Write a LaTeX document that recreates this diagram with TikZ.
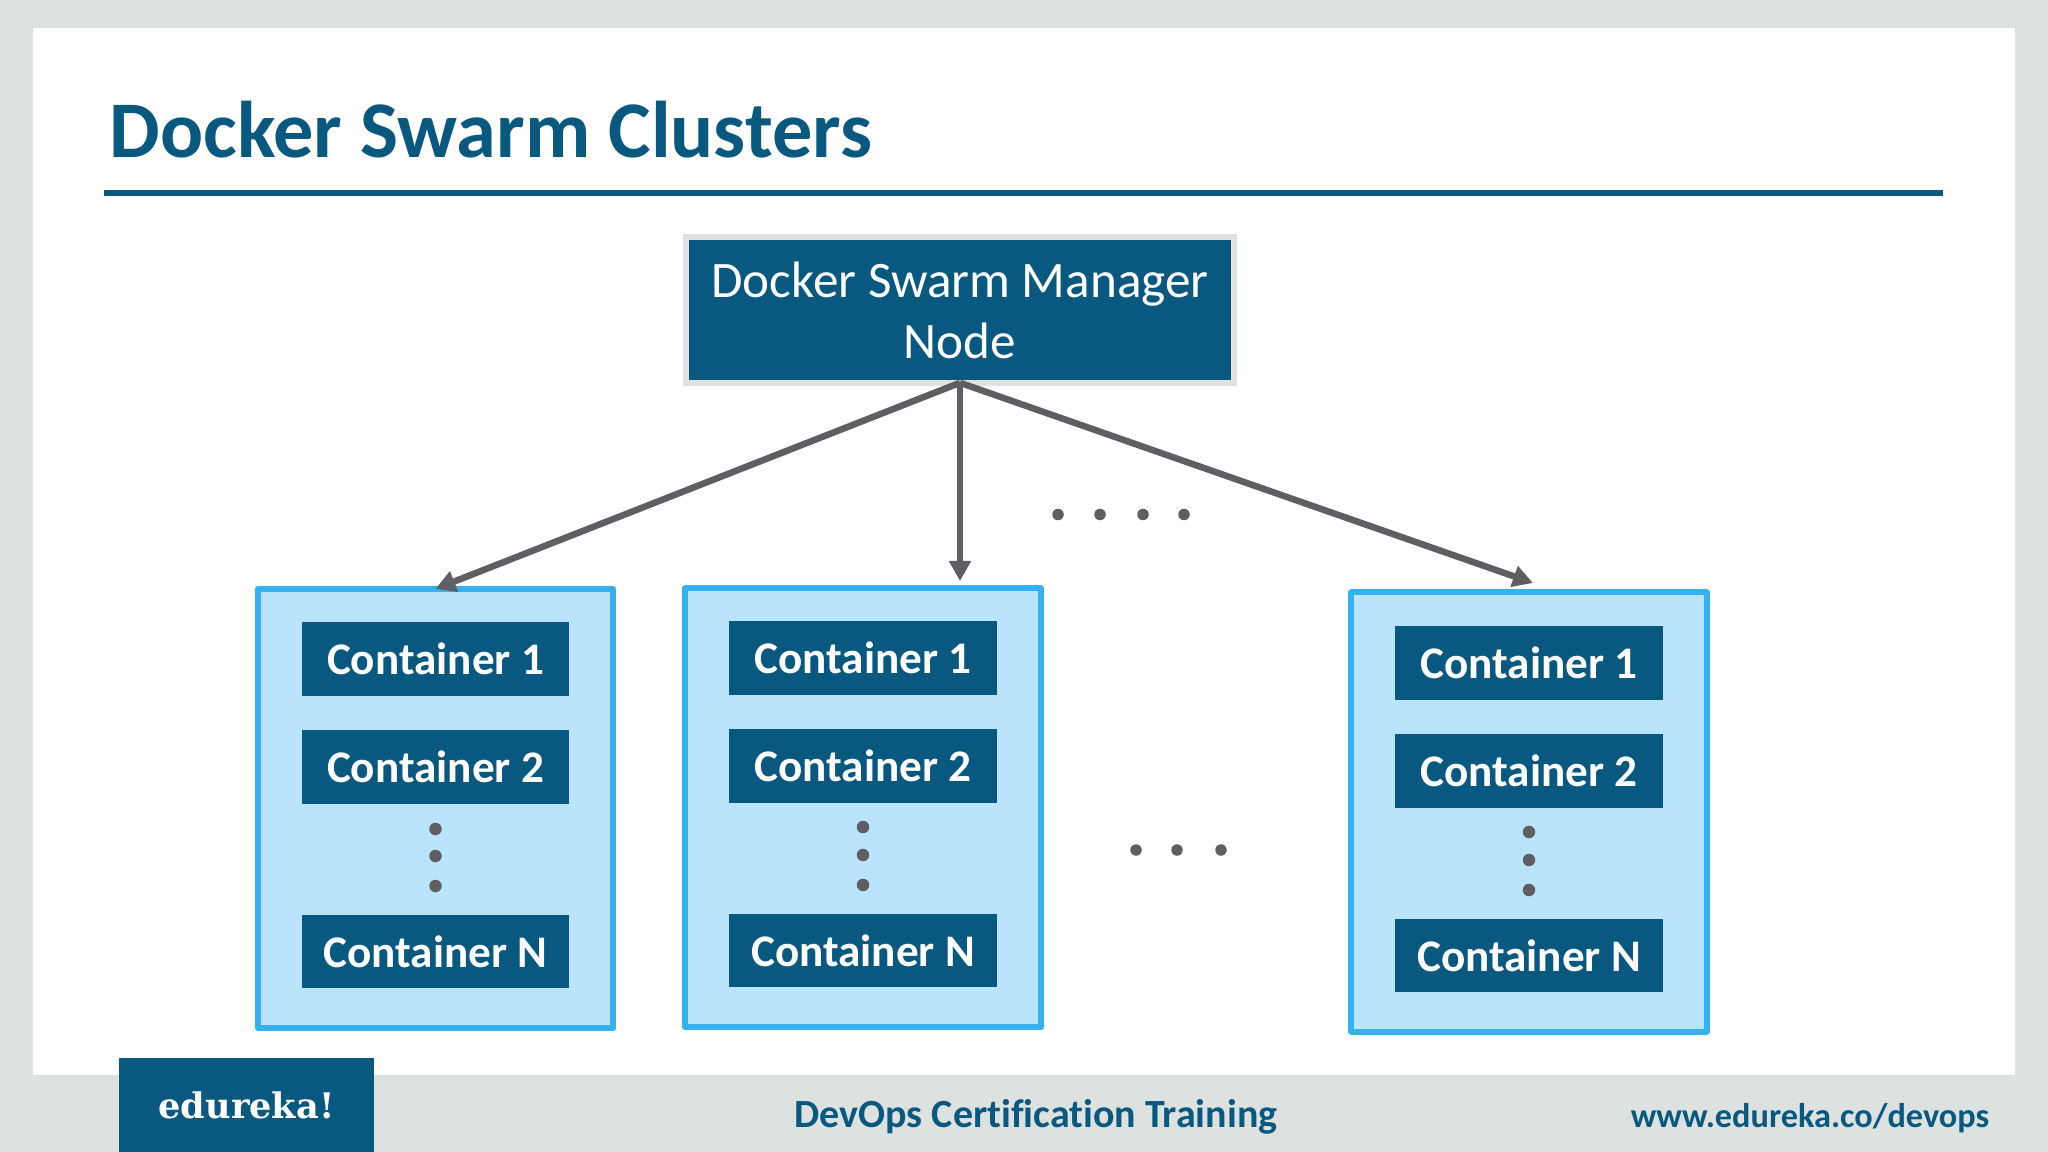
\documentclass[tikz,border=0pt]{standalone}
\usepackage{fontspec}
\setmainfont[Ligatures=NoCommon]{Carlito}
\newfontfamily\logofont{DejaVu Serif}
\usetikzlibrary{arrows.meta}
\definecolor{slidegray}{RGB}{221,226,224}
\definecolor{navy}{RGB}{8,88,128}
\definecolor{edgegray}{RGB}{224,226,226}
\definecolor{boxblue}{RGB}{185,228,251}
\definecolor{edgeblue}{RGB}{53,176,240}
\definecolor{linegray}{RGB}{95,95,99}
\tikzset{
    manager/.style={rectangle,draw=edgegray,fill=navy,line width=0.065cm,outer sep=0pt,inner sep=0pt,
        minimum width=5.475cm,minimum height=1.455cm,align=center,text=white,
        font=\fontsize{14.55}{17.35}\selectfont},
    cluster/.style={rectangle,draw=edgeblue,fill=boxblue,line width=0.06cm,line join=round,outer sep=0pt,
        minimum width=3.55cm,minimum height=4.39cm},
    container/.style={rectangle,fill=navy,inner sep=0pt,outer sep=0pt,minimum width=2.67cm,minimum height=0.735cm,
        text=white,font=\fontsize{12.85}{15}\selectfont\bfseries},
    dot/.style={circle,fill=linegray,inner sep=0pt,outer sep=0pt,minimum size=0.125cm},
    link/.style={draw=linegray,line width=0.065cm,-{Triangle[length=0.2cm,width=0.21cm]}},
}

\begin{document}
\begin{tikzpicture}[x=0.01cm,y=-0.01cm]
    \useasboundingbox (0,0) rectangle (2048,1152);
    % slide
    \fill[slidegray] (0,0) rectangle (2048,1152);
    \fill[white] (33,28) rectangle (2015,1075);
    \node[anchor=base west,inner sep=0pt,text=navy,font=\fontsize{22.85}{27}\selectfont\bfseries] at (109,157.5) (1) {Docker Swarm Clusters};
    \fill[navy] (104,190) rectangle (1943,196);

    \node[manager] at (960,310) (2) {Docker Swarm Manager\\Node};

    % first cluster
    \node[cluster] at (435.5,808.5) (3) {};
    \node[container] at (435.5,659) (4) {Container 1};
    \node[container] at (435.5,767) (5) {Container 2};
    \node[dot] at (435.5,829) (6) {};
    \node[dot] at (435.5,856) (7) {};
    \node[dot] at (435.5,886) (8) {};
    \node[container] at (435.5,951.5) (9) {Container N};

    % second cluster
    \node[cluster] at (863,807.5) (10) {};
    \node[container] at (863,658) (11) {Container 1};
    \node[container] at (863,766) (12) {Container 2};
    \node[dot] at (863,827) (13) {};
    \node[dot] at (863,855) (14) {};
    \node[dot] at (863,885) (15) {};
    \node[container] at (863,950.5) (16) {Container N};

    % last cluster
    \node[cluster] at (1529,812) (17) {};
    \node[container] at (1529,663) (18) {Container 1};
    \node[container] at (1529,771) (19) {Container 2};
    \node[dot] at (1529,832) (20) {};
    \node[dot] at (1529,860) (21) {};
    \node[dot] at (1529,890) (22) {};
    \node[container] at (1529,955.5) (23) {Container N};

    % dots between the arrows
    \node[dot,minimum size=0.115cm] at (1058,514.5) (24) {};
    \node[dot,minimum size=0.115cm] at (1100,514.5) (25) {};
    \node[dot,minimum size=0.115cm] at (1143,514.5) (26) {};
    \node[dot,minimum size=0.115cm] at (1184,514.5) (27) {};
    % dots between the clusters
    \node[dot,minimum size=0.115cm] at (1136,850) (28) {};
    \node[dot,minimum size=0.115cm] at (1177,850) (29) {};
    \node[dot,minimum size=0.115cm] at (1221,850) (30) {};

    \coordinate (31) at (960,581);
    \coordinate (32) at (1533,583);
    \draw[link] (2.south) -- (3.north);
    \draw[link] (2.south) -- (31);
    \draw[link] (2.south) -- (32);

    % footer
    \node[rectangle,fill=navy,inner sep=0pt,outer sep=0pt,minimum width=2.55cm,minimum height=0.94cm,text=white,
        font=\fontsize{10}{12}\logofont\bfseries] at (246.5,1105) (33) {edureka!};
    \node[anchor=base,inner sep=0pt,text=navy,font=\fontsize{11.37}{13}\selectfont\bfseries] at (1036,1127.5) (34) {DevOps Certification Training};
    \node[anchor=base east,inner sep=0pt,text=navy,font=\fontsize{9.75}{12}\selectfont\bfseries] at (1990,1127.5) (35) {www.edureka.co/devops};
\end{tikzpicture}
\end{document}
